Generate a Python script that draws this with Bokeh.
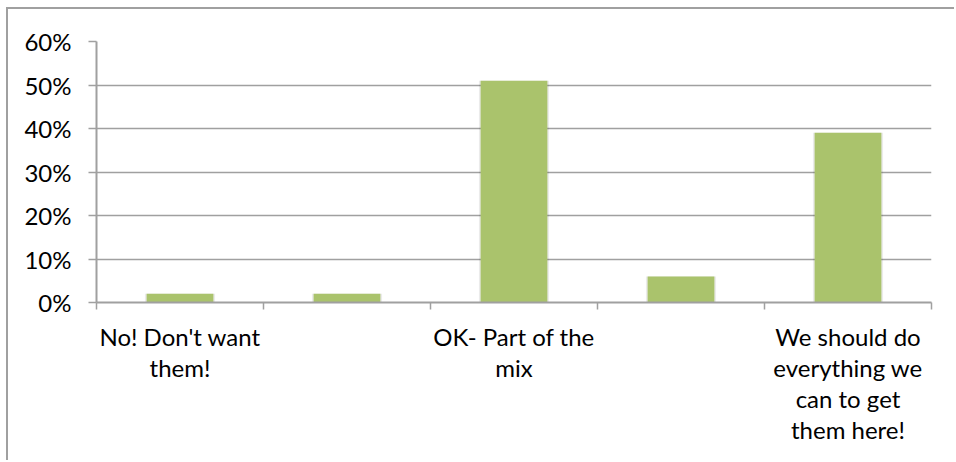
from bokeh.plotting import figure
from bokeh.models import FixedTicker, NumeralTickFormatter, ColumnDataSource, Range1d
from bokeh.embed import file_html
from bokeh.resources import INLINE

# Survey answers (only every other category label is shown on the axis)
categories = [
    "No! Don't want\nthem!",
    "",
    "OK- Part of the\nmix",
    "",
    "We should do\neverything we\ncan to get\nthem here!",
]
shares = [0.02, 0.02, 0.51, 0.06, 0.39]
y_ticks = [0.0, 0.1, 0.2, 0.3, 0.4, 0.5, 0.6]

FONT = "Lato"
GREY = "#a0a0a0"
BAR = "#aac36c"

n = len(categories)
centers = [i + 0.5 for i in range(n)]
source = ColumnDataSource(dict(x=centers, top=shares))

p = figure(
    width=948, height=453,
    x_range=Range1d(0, n), y_range=Range1d(0, y_ticks[-1]),
    output_backend="svg", toolbar_location=None,
    min_border_left=88, min_border_right=25,
    min_border_top=32, min_border_bottom=160,
    styles={
        "margin-left": "6px", "margin-top": "7px",
        "border-left": f"2px solid {GREY}", "border-top": f"2px solid {GREY}",
    },
)
p.outline_line_color = None
p.background_fill_color = "white"
p.border_fill_color = "white"

# soft drop shadow behind each bar, then the bar itself
p.vbar(x="x", top="top", width=0.42, bottom=0, source=source,
       fill_color="black", fill_alpha=0.08, line_color=None)
p.vbar(x="x", top="top", width=0.4, bottom=0, source=source,
       fill_color=BAR, line_color=None)

# horizontal gridlines only
p.xgrid.grid_line_color = None
p.ygrid.ticker = FixedTicker(ticks=y_ticks)
p.ygrid.grid_line_color = GREY
p.ygrid.grid_line_width = 1.5
p.ygrid.level = "underlay"

# value axis
p.yaxis.ticker = FixedTicker(ticks=y_ticks)
p.yaxis.formatter = NumeralTickFormatter(format="0%")
p.yaxis.axis_line_color = GREY
p.yaxis.axis_line_width = 2
p.yaxis.major_tick_line_color = GREY
p.yaxis.major_tick_line_width = 1.5
p.yaxis.major_tick_out = 8
p.yaxis.major_tick_in = 0
p.yaxis.minor_tick_line_color = None
p.yaxis.major_label_standoff = 17
p.yaxis.major_label_text_font = FONT
p.yaxis.major_label_text_font_size = "24px"
p.yaxis.major_label_text_color = "black"

# category axis: labels at bar centres, tick marks at category boundaries
p.xaxis.ticker = FixedTicker(ticks=centers, minor_ticks=list(range(n + 1)))
p.xaxis.major_label_overrides = {c: lab for c, lab in zip(centers, categories)}
p.xaxis.axis_line_color = GREY
p.xaxis.axis_line_width = 2
p.xaxis.major_tick_line_color = None
p.xaxis.major_tick_out = 0
p.xaxis.major_tick_in = 0
p.xaxis.minor_tick_line_color = GREY
p.xaxis.minor_tick_line_width = 1.5
p.xaxis.minor_tick_out = 7
p.xaxis.minor_tick_in = 0
p.xaxis.major_label_standoff = 12
p.xaxis.major_label_text_font = FONT
p.xaxis.major_label_text_font_size = "24px"
p.xaxis.major_label_text_color = "black"
p.xaxis.major_label_text_line_height = 1.08
p.xaxis.major_label_orientation = "horizontal"

open("out.html", "w").write(file_html(p, INLINE))
